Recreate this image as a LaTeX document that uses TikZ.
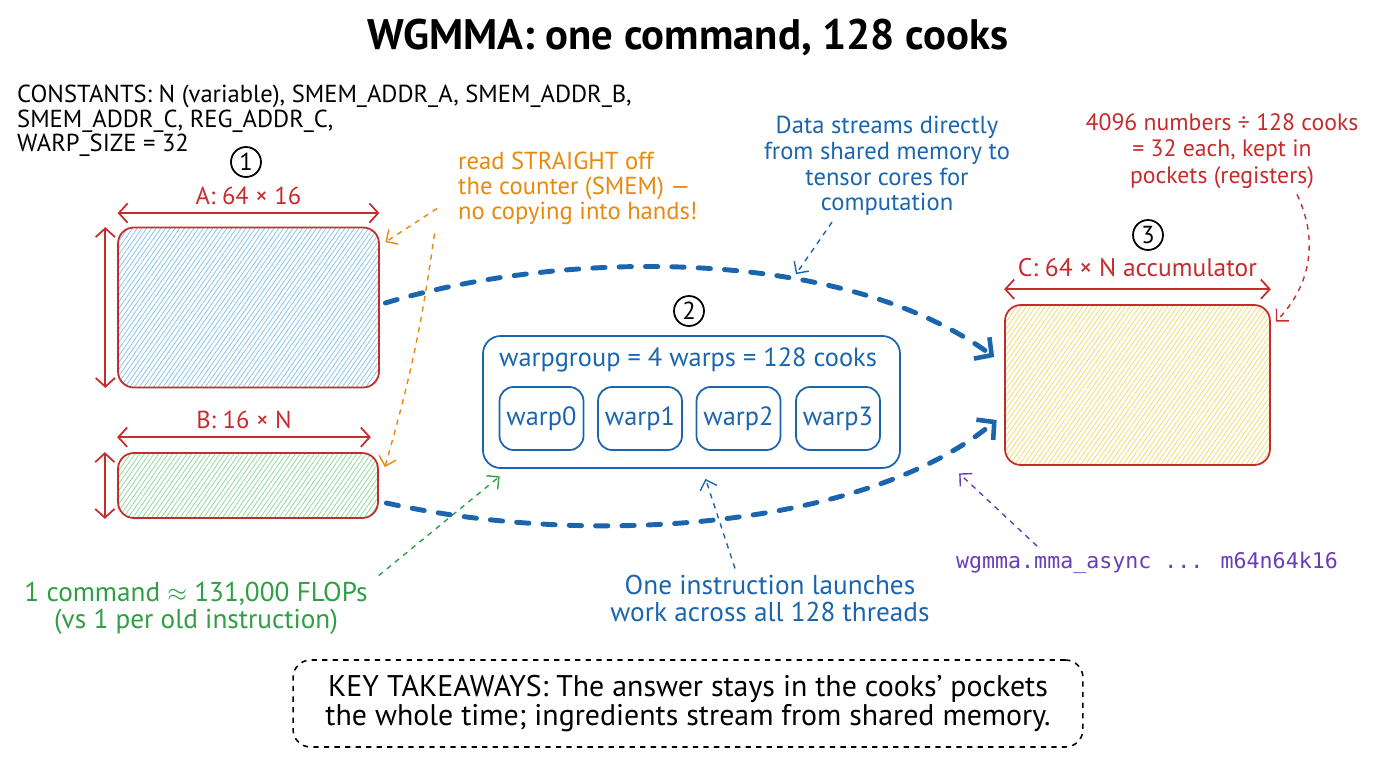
\documentclass[tikz,border=0pt]{standalone}
\usepackage{fontspec}
\setmainfont{PT Sans}
\newfontfamily\codefont{DejaVu Sans Mono}
\usetikzlibrary{arrows.meta,positioning,patterns.meta}

\definecolor{inkred}{HTML}{C62C2C}
\definecolor{inkblue}{HTML}{1A65AE}
\definecolor{inkorange}{HTML}{E8890C}
\definecolor{inkgreen}{HTML}{2F9E44}
\definecolor{inkpurple}{HTML}{6A3DB8}
\definecolor{hatchblue}{HTML}{86C3F2}
\definecolor{hatchgreen}{HTML}{8FD99B}
\definecolor{hatchyellow}{HTML}{F2DA70}

\begin{document}
\begin{tikzpicture}[x=0.02cm, y=-0.02cm,
    mat/.style={draw=inkred, rounded corners=9pt, line width=1pt},
    grp/.style={draw=inkblue, rounded corners=10pt, line width=1pt},
    warp/.style={draw=inkblue, rounded corners=8pt, line width=1pt, minimum width=1.68cm, minimum height=1.26cm, text=inkblue, font=\fontsize{15}{17}\selectfont},
    num/.style={draw, circle, line width=1pt, minimum size=0.6cm, inner sep=0pt, font=\fontsize{14}{16}\selectfont},
    dim/.style={{Straight Barb[length=5pt,width=11pt]}-{Straight Barb[length=5pt,width=11pt]}, draw=inkred, line width=1pt},
    flow/.style={-{Straight Barb[length=7pt,width=15pt,line width=2.6pt]}, draw=inkblue, line width=2.8pt, dash pattern=on 7pt off 8pt, line cap=round},
    note/.style={-{Straight Barb[length=5pt,width=10pt]}, dashed, line width=0.8pt},
    lbl/.style={font=\fontsize{14}{14.7}\selectfont, align=center},
    hatch/.style={pattern={Lines[angle=55,distance=2.2pt,line width=0.45pt]}, pattern color=#1}
]
\useasboundingbox (0,0) rectangle (1376,768);

% title and constants
\node[font=\bfseries\fontsize{24.3}{28}\selectfont] (title) at (688,37) {WGMMA: one command, 128 cooks};
\node[anchor=north west, align=left, font=\fontsize{14}{14}\selectfont] (consts) at (11,79) {CONSTANTS: N (variable), SMEM\_ADDR\_A, SMEM\_ADDR\_B,\\SMEM\_ADDR\_C, REG\_ADDR\_C,\\WARP\_SIZE = 32};

% step numbers
\node[num] (n1) at (246,162) {1};
\node[num] (n2) at (689,311) {2};
\node[num] (n3) at (1148,235) {3};

% matrices in shared memory
\node[mat, hatch=hatchblue, minimum width=5.22cm, minimum height=3.2cm] (matA) at (248.5,307.5) {};
\node[mat, hatch=hatchgreen, minimum width=5.2cm, minimum height=1.3cm] (matB) at (248,485.5) {};
\draw[dim] ([yshift=8pt]matA.north west) -- node[above=1pt, lbl, text=inkred] {A: 64 × 16} ([yshift=8pt]matA.north east);
\draw[dim] ([xshift=-7pt]matA.north west) -- ([xshift=-7pt]matA.south west);
\draw[dim] ([yshift=8.5pt]matB.north west) -- node[above=1pt, lbl, text=inkred] {B: 16 × N} ([xshift=-0.16cm,yshift=8.5pt]matB.north east);
\draw[dim] ([xshift=-7pt]matB.north west) -- ([xshift=-7pt]matB.south west);

% warpgroup
\node[grp, minimum width=8.34cm, minimum height=2.64cm] (wg) at (691.5,402) {};
\node[lbl, text=inkblue, font=\fontsize{15}{17}\selectfont] (wglabel) at (688,360) {warpgroup = 4 warps = 128 cooks};
\node[warp] (w0) at (541.5,418.5) {warp0};
\node[warp] (w1) at (640,418.5) {warp1};
\node[warp] (w2) at (738.5,418.5) {warp2};
\node[warp] (w3) at (838,418.5) {warp3};

% accumulator in registers
\node[mat, hatch=hatchyellow, minimum width=5.3cm, minimum height=3.2cm] (matC) at (1137.5,385) {};
\draw[dim] ([yshift=8.5pt]matC.north west) -- node[above=3pt, lbl, text=inkred, font=\fontsize{14.5}{17}\selectfont] {C: 64 × N accumulator} ([yshift=8.5pt]matC.north east);

% data streams
\draw[flow] ([xshift=0.12cm,yshift=0.09cm]matA.east) .. controls (560,250) and (840,245) .. ([xshift=-0.2cm,yshift=0.56cm]matC.west) coordinate[pos=0.65] (flowtop);
\draw[flow] ([xshift=0.15cm,yshift=-0.35cm]matB.east) .. controls (600,550) and (870,525) .. ([xshift=-0.15cm,yshift=-0.7cm]matC.west);

% notes
\node[lbl, text=inkorange, align=left, anchor=north west, font=\fontsize{14}{14.2}\selectfont] (readnote) at (452,146) {read STRAIGHT off\\the counter (SMEM) ---\\no copying into hands!};
\node[lbl, text=inkblue] (datanote) at (887,166) {Data streams directly\\from shared memory to\\tensor cores for\\computation};
\node[lbl, text=inkred, font=\fontsize{13.5}{14.9}\selectfont] (regnote) at (1222,151) {4096 numbers ÷ 128 cooks\\= 32 each, kept in\\pockets (registers)};
\node[lbl, text=inkgreen, font=\fontsize{15.5}{15.4}\selectfont] (flopnote) at (196,608) {1 command $\approx$ 131,000 FLOPs\\(vs 1 per old instruction)};
\node[lbl, text=inkblue, font=\fontsize{15.5}{15.4}\selectfont] (launchnote) at (770,598) {One instruction launches\\work across all 128 threads};
\node[text=inkpurple, font=\codefont\fontsize{12.3}{14}\selectfont] (codenote) at (1147,563) {wgmma.mma\_async ... m64n64k16};

\draw[note, draw=inkorange] ([xshift=-0.3cm,yshift=-0.4cm]readnote.west) -- ([xshift=0.12cm,yshift=-0.3cm]matA.north east);
\draw[note, draw=inkorange] ([xshift=-0.35cm,yshift=-0.05cm]readnote.south west) to[bend left=4] ([xshift=0.12cm,yshift=-0.3cm]matB.north east);
\draw[note, draw=inkblue] ([xshift=-1.1cm]datanote.south) -- ([yshift=3pt]flowtop);
\draw[note, draw=inkred] ([xshift=1.5cm]regnote.south) to[bend left=35] ([xshift=0.1cm,yshift=-0.35cm]matC.north east);
\draw[note, draw=inkgreen] ([xshift=0.1cm]flopnote.north east) -- ([xshift=0.35cm,yshift=-0.15cm]wg.south west);
\draw[note, draw=inkblue] ([xshift=-0.7cm]launchnote.north) -- ([xshift=0.28cm,yshift=-0.2cm]wg.south);
\draw[note, draw=inkpurple] ([xshift=-2.2cm]codenote.north) -- ([xshift=-0.9cm,yshift=-0.15cm]matC.south west);

% takeaway
\node[draw, dashed, rounded corners=10pt, line width=0.9pt, minimum width=15.8cm, minimum height=1.74cm, align=center, font=\fontsize{17}{16}\selectfont] (keybox) at (688,703.5) {KEY TAKEAWAYS: The answer stays in the cooks' pockets\\the whole time; ingredients stream from shared memory.};
\end{tikzpicture}
\end{document}
